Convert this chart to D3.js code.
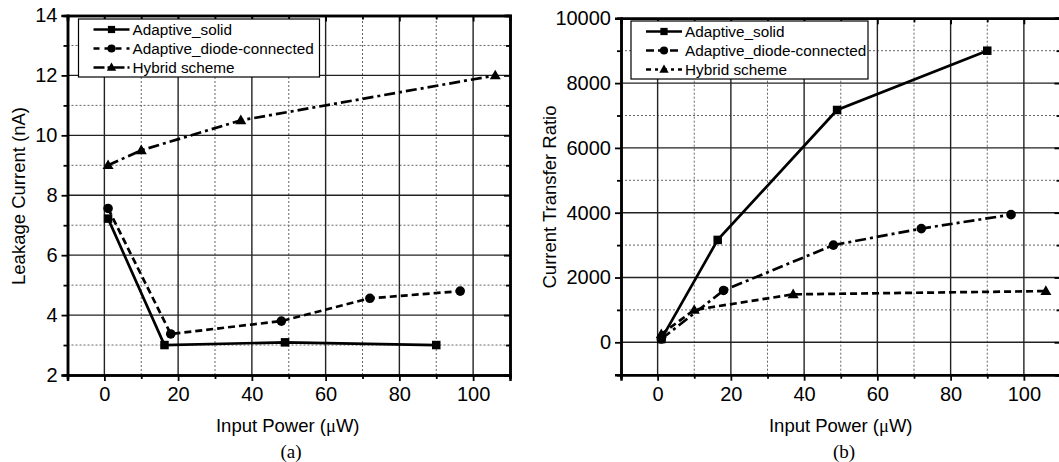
<!DOCTYPE html>
<html>
<head>
<meta charset="utf-8">
<script src="https://cdn.jsdelivr.net/npm/d3@7"></script>
<style>
  html, body { margin: 0; padding: 0; background: #fff; }
  svg { display: block; }
  text { font-family: "Liberation Sans", Arial, sans-serif; fill: #000; }
</style>
</head>
<body>
<svg id="chart" width="1059" height="462"></svg>
<script>
// ---------------- DATA ----------------
const seriesNames = ["Adaptive_solid", "Adaptive_diode-connected", "Hybrid scheme"];

// Panel (a): Leakage current (nA) vs input power (uW)
const aSolidX = [1, 16.3, 49, 90];
const aSolidY = [7.22, 3.0, 3.09, 3.0];
const aDiodeX = [1, 18, 48, 72, 96.5];
const aDiodeY = [7.56, 3.37, 3.8, 4.56, 4.8];
const aHybridX = [1, 10, 37, 106];
const aHybridY = [9.0, 9.5, 10.5, 12.0];

// Panel (b): Current transfer ratio vs input power (uW)
const bSolidX = [1, 16.4, 49, 90];
const bSolidY = [100, 3160, 7170, 9000];
const bDiodeX = [1, 18, 48, 72, 96.5];
const bDiodeY = [100, 1600, 3000, 3510, 3940];
const bHybridX = [1, 10, 37, 106];
const bHybridY = [250, 1000, 1480, 1580];

const xMajorTicks = [0, 20, 40, 60, 80, 100];
const xMinorTicks = [-10, 10, 30, 50, 70, 90, 110];
const aYMajorTicks = [2, 4, 6, 8, 10, 12, 14];
const aYMinorTicks = [3, 5, 7, 9, 11, 13];
const bYMajorTicks = [0, 2000, 4000, 6000, 8000, 10000];
const bYMinorTicks = [-1000, 1000, 3000, 5000, 7000, 9000];

const xLabelParts = ["Input Power (", "\u03bc", "W)"];
const aYLabel = "Leakage Current (nA)";
const bYLabel = "Current Transfer Ratio";

// ---------------- DRAW ----------------
const svg = d3.select("#chart");

const DASH = "7,4";
const DASHDOT = "11,4,3,4";

function panel(cfg) {
  const x = d3.scaleLinear().domain([-10, 110]).range([cfg.x0, cfg.x1]);
  const y = d3.scaleLinear().domain(cfg.yDomain).range([cfg.y0, cfg.y1]);
  const g = svg.append("g");

  // grid
  const grid = g.append("g").attr("class", "grid");
  xMinorTicks.filter(d => d > -10 && d < 110).forEach(d => {
    grid.append("line")
      .attr("x1", x(d)).attr("x2", x(d)).attr("y1", cfg.y0).attr("y2", cfg.y1)
      .style("stroke", "#666").style("stroke-width", "1px").style("stroke-dasharray", "2,2");
  });
  cfg.yMinor.filter(d => d > cfg.yDomain[0] && d < cfg.yDomain[1]).forEach(d => {
    grid.append("line")
      .attr("x1", cfg.x0).attr("x2", cfg.x1).attr("y1", y(d)).attr("y2", y(d))
      .style("stroke", "#666").style("stroke-width", "1px").style("stroke-dasharray", "2,2");
  });
  xMajorTicks.forEach(d => {
    grid.append("line")
      .attr("x1", x(d)).attr("x2", x(d)).attr("y1", cfg.y0).attr("y2", cfg.y1)
      .style("stroke", "#222").style("stroke-width", "1.4px");
  });
  cfg.yMajor.filter(d => d > cfg.yDomain[0] && d < cfg.yDomain[1]).forEach(d => {
    grid.append("line")
      .attr("x1", cfg.x0).attr("x2", cfg.x1).attr("y1", y(d)).attr("y2", y(d))
      .style("stroke", "#222").style("stroke-width", "1.4px");
  });

  // axes
  const axB = g.append("g").attr("transform", `translate(0,${cfg.y0})`)
    .call(d3.axisBottom(x).tickValues(xMajorTicks).tickSize(6).tickPadding(6).tickFormat(d3.format("d")));
  const axBm = g.append("g").attr("transform", `translate(0,${cfg.y0})`)
    .call(d3.axisBottom(x).tickValues(xMinorTicks).tickSize(4).tickFormat(""));
  const axT = g.append("g").attr("transform", `translate(0,${cfg.y1})`)
    .call(d3.axisBottom(x).tickValues(xMajorTicks).tickSize(6).tickFormat(""));
  const axTm = g.append("g").attr("transform", `translate(0,${cfg.y1})`)
    .call(d3.axisBottom(x).tickValues(xMinorTicks).tickSize(4).tickFormat(""));
  const axL = g.append("g").attr("transform", `translate(${cfg.x0},0)`)
    .call(d3.axisLeft(y).tickValues(cfg.yMajor).tickSize(6).tickPadding(4).tickFormat(d3.format("d")));
  const axLm = g.append("g").attr("transform", `translate(${cfg.x0},0)`)
    .call(d3.axisLeft(y).tickValues(cfg.yMinor).tickSize(4).tickFormat(""));
  const axR = g.append("g").attr("transform", `translate(${cfg.x1},0)`)
    .call(d3.axisLeft(y).tickValues(cfg.yMajor).tickSize(6).tickFormat(""));
  const axRm = g.append("g").attr("transform", `translate(${cfg.x1},0)`)
    .call(d3.axisLeft(y).tickValues(cfg.yMinor).tickSize(4).tickFormat(""));
  [axB, axBm, axT, axTm, axL, axLm, axR, axRm].forEach(a => {
    a.select(".domain").attr("stroke", "#000").attr("stroke-width", 2.5);
    a.selectAll(".tick line").attr("stroke", "#000").attr("stroke-width", 1.8);
    a.selectAll(".tick text").style("font-size", "20px").attr("fill", "#000")
      .style("font-family", '"Liberation Sans", Arial, sans-serif');
  });

  // series
  const line = d3.line().x(d => x(d[0])).y(d => y(d[1]));
  cfg.series.forEach(s => {
    const pts = s.xs.map((v, i) => [v, s.ys[i]]);
    g.append("path").datum(pts).attr("d", line)
      .attr("fill", "none").attr("stroke", "#000").attr("stroke-width", 2.7)
      .attr("stroke-dasharray", s.dash);
    pts.forEach(p => drawMarker(g, s.marker, x(p[0]), y(p[1])));
  });

  // legend
  const lg = g.append("g");
  lg.append("rect").attr("x", cfg.leg.x).attr("y", cfg.leg.y)
    .attr("width", cfg.leg.w).attr("height", cfg.leg.h)
    .attr("fill", "#fff").attr("stroke", "#000").attr("stroke-width", 1.2);
  cfg.series.forEach((s, i) => {
    const ry = cfg.leg.y + 10.5 + i * 19;
    const lx = cfg.leg.x + 15;
    lg.append("line").attr("x1", lx).attr("x2", lx + 36).attr("y1", ry).attr("y2", ry)
      .attr("stroke", "#000").attr("stroke-width", 2.6).attr("stroke-dasharray", s.legDash);
    drawMarker(lg, s.marker, lx + 18, ry, 0.85);
    lg.append("text").attr("x", lx + 39).attr("y", ry).attr("dy", "0.35em")
      .style("font-size", "15.3px").text(s.name);
  });

  // axis labels
  const xl = g.append("text").attr("x", (cfg.x0 + cfg.x1) / 2 + cfg.xLabOff).attr("y", 432)
    .attr("text-anchor", "middle").style("font-size", "18.5px");
  xl.append("tspan").text(xLabelParts[0]);
  xl.append("tspan").style("font-family", '"Liberation Serif", "Times New Roman", serif').text(xLabelParts[1]);
  xl.append("tspan").text(xLabelParts[2]);
  g.append("text").attr("transform", `translate(${cfg.yLabX},${cfg.yLabY}) rotate(-90)`)
    .attr("text-anchor", "middle").attr("dy", "0.35em").style("font-size", "18.5px").text(cfg.yLabel);
  g.append("text").attr("x", cfg.capX).attr("y", 458)
    .attr("text-anchor", "middle").style("font-size", "19px")
    .style("font-family", '"Liberation Serif", "Times New Roman", serif').text(cfg.caption);
}

function drawMarker(g, type, cx, cy, k = 1) {
  if (type === "square") {
    const s = 8.5 * k;
    g.append("rect").attr("x", cx - s / 2).attr("y", cy - s / 2).attr("width", s).attr("height", s).attr("fill", "#000");
  } else if (type === "circle") {
    g.append("circle").attr("cx", cx).attr("cy", cy).attr("r", 4.8 * k).attr("fill", "#000");
  } else {
    const s = 11 * k;
    const h = s * 0.87;
    g.append("path").attr("d", `M${cx},${cy - h * 0.6}L${cx + s / 2},${cy + h * 0.4}L${cx - s / 2},${cy + h * 0.4}Z`).attr("fill", "#000");
  }
}

panel({
  x0: 67.5, x1: 510, y0: 375, y1: 15.5,
  yDomain: [2, 14], yMajor: aYMajorTicks, yMinor: aYMinorTicks,
  yLabel: aYLabel, yLabX: 19, yLabY: 196, xLabOff: -1, capX: 291, caption: "(a)",
  leg: { x: 78.5, y: 19, w: 241, h: 58 },
  series: [
    { name: seriesNames[0], xs: aSolidX, ys: aSolidY, marker: "square", dash: null, legDash: null },
    { name: seriesNames[1], xs: aDiodeX, ys: aDiodeY, marker: "circle", dash: DASH, legDash: "6,5" },
    { name: seriesNames[2], xs: aHybridX, ys: aHybridY, marker: "triangle", dash: DASHDOT, legDash: "11,3,3,3" }
  ]
});

panel({
  x0: 621, x1: 1060.5, y0: 374.7, y1: 18.3,
  yDomain: [-1000, 10000], yMajor: bYMajorTicks, yMinor: bYMinorTicks,
  yLabel: bYLabel, yLabX: 550, yLabY: 197, xLabOff: 0, capX: 844, caption: "(b)",
  leg: { x: 631, y: 21, w: 237, h: 58 },
  series: [
    { name: seriesNames[0], xs: bSolidX, ys: bSolidY, marker: "square", dash: null, legDash: null },
    { name: seriesNames[1], xs: bDiodeX, ys: bDiodeY, marker: "circle", dash: DASHDOT, legDash: "8,4" },
    { name: seriesNames[2], xs: bHybridX, ys: bHybridY, marker: "triangle", dash: DASH, legDash: "5,4,3,4" }
  ]
});
</script>
</body>
</html>
